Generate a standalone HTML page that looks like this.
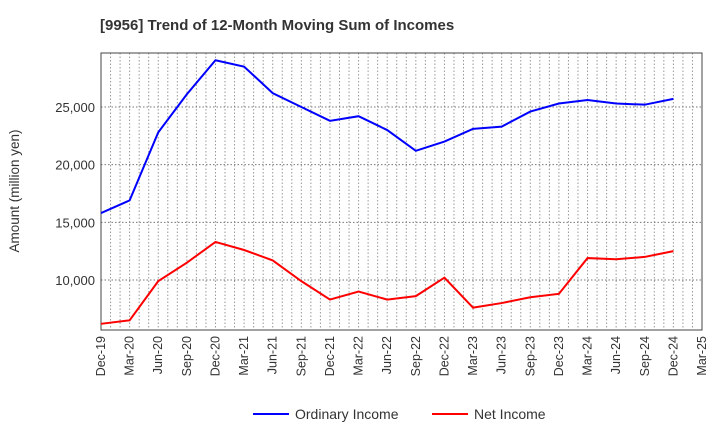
<!DOCTYPE html>
<html><head><meta charset="utf-8"><style>
body{margin:0;background:#fff;}
svg{font-family:"Liberation Sans",sans-serif;}
</style></head><body>
<svg id="chart" width="720" height="440"></svg>
<script>
const categories=["Dec-19","Mar-20","Jun-20","Sep-20","Dec-20","Mar-21","Jun-21","Sep-21","Dec-21","Mar-22","Jun-22","Sep-22","Dec-22","Mar-23","Jun-23","Sep-23","Dec-23","Mar-24","Jun-24","Sep-24","Dec-24","Mar-25"];
const ordinaryIncome=[15800,16900,22800,26100,29050,28500,26200,25000,23800,24200,23000,21200,22000,23100,23300,24600,25300,25600,25300,25200,25700];
const netIncome=[6200,6500,9900,11500,13300,12600,11700,9900,8300,9000,8300,8600,10200,7600,8000,8500,8800,11900,11800,12000,12500];
const yTicks=[10000,15000,20000,25000];
const yTickLabels=["10,000","15,000","20,000","25,000"];
const NS="http://www.w3.org/2000/svg";
const svg=document.getElementById('chart');
const L=101,R=702,T=53,B=330,yMin=5664,yMax=29680;
const x=i=>L+(R-L)*i/(categories.length-1);
const y=v=>B-(v-yMin)/(yMax-yMin)*(B-T);
function mk(tag,attrs,parent){const e=document.createElementNS(NS,tag);for(const k in attrs)e.setAttribute(k,attrs[k]);(parent||svg).appendChild(e);return e;}
let t=mk('text',{x:100,y:30,'font-size':15,'font-weight':'bold',fill:'#333'});t.textContent='[9956]  Trend of 12-Month Moving Sum of Incomes';


const grid=mk('g',{});


for(let m=1;m<(categories.length-1)*3;m++){const xx=L+(R-L)*m/((categories.length-1)*3);mk('line',{x1:xx,x2:xx,y1:T,y2:B,stroke:'#999','stroke-dasharray':'1.5,2','stroke-width':1},grid);}
yTicks.forEach((v,i)=>{mk('line',{x1:L,x2:R,y1:y(v),y2:y(v),stroke:'#777','stroke-dasharray':'1.5,2'},grid);
const tl=mk('text',{x:L-6,y:y(v)+5,'text-anchor':'end','font-size':13,fill:'#333'});tl.textContent=yTickLabels[i];

});
const frame=mk('rect',{x:L,y:T,width:R-L,height:B-T,fill:'none',stroke:'#444','stroke-width':1});


categories.forEach((c,i)=>{const xx=x(i);const tl=mk('text',{transform:`translate(${xx+4},${B+6}) rotate(-90)`,'text-anchor':'end','font-size':12.5,fill:'#333'});tl.textContent=c;

});
const yt=mk('text',{transform:'translate(19,191) rotate(-90)','text-anchor':'middle','font-size':13.5,fill:'#333'});yt.textContent='Amount (million yen)';


function line(data,color,name){const p=mk('polyline',{points:data.map((v,i)=>x(i)+','+y(v)).join(' '),fill:'none',stroke:color,'stroke-width':2});

}
line(ordinaryIncome,'#0000ff','ordinary-income-line');
line(netIncome,'#ff0000','net-income-line');
function leg(x0,color,label,name){const g=mk('g',{});


mk('line',{x1:x0,x2:x0+36,y1:414,y2:414,stroke:color,'stroke-width':2},g);const tx=mk('text',{x:x0+42,y:419,'font-size':14,fill:'#333'},g);tx.textContent=label;}
leg(253,'#0000ff','Ordinary Income','legend-ordinary-income');
leg(432,'#ff0000','Net Income','legend-net-income');
</script>
</body></html>
